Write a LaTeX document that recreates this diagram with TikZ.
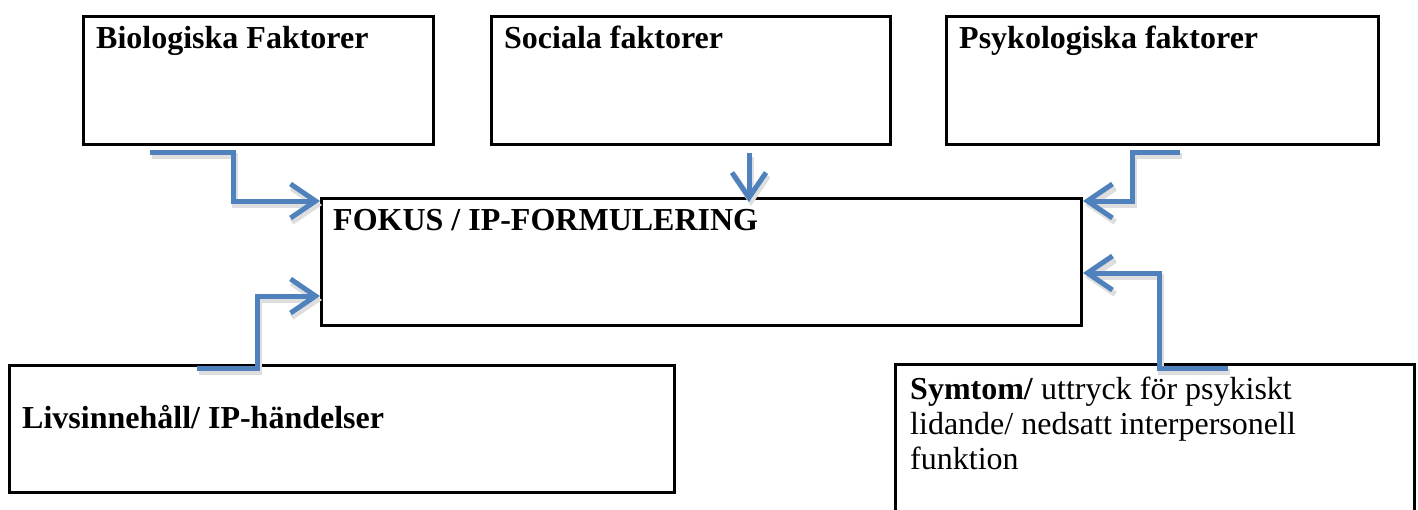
\documentclass[tikz,border=0pt]{standalone}
\usepackage{fontspec}
\setmainfont{Liberation Serif}
\usetikzlibrary{arrows.meta,positioning,calc}
\definecolor{ipblue}{RGB}{79,129,189}

\begin{document}
\begin{tikzpicture}[x=1pt, y=-1pt,
  every node/.style={font=\fontsize{32}{35}\selectfont, inner sep=0pt},
  box/.style={draw, line width=3pt, anchor=north west},
  lbl/.style={anchor=base west, font=\fontsize{32}{35}\selectfont\bfseries},
  pil/.style={line width=5pt, ipblue, -{Straight Barb[length=25pt,width=34pt]},
    preaction={draw=black!13, line width=6pt, transform canvas={shift={(2pt,-4pt)}}}}]
  \useasboundingbox (0,0) rectangle (1418,509);
  \clip (0,0) rectangle (1418,509);
  % top row
  \foreach \name/\xl/\bw/\txt in {bio/82/350/Biologiska Faktorer,
      soc/490/399/Sociala faktorer, psy/945/432/Psykologiska faktorer} {
    \node[box, minimum width=\bw pt, minimum height=128pt] (\name) at (\xl,15) {};
    \node[lbl] (\name txt) at (\xl+14,48) {\txt};
  }
  % centre
  \node[box, minimum width=760pt, minimum height=127pt] (fokus) at (320,197) {};
  \node[lbl] (fokustxt) at (333,230) {FOKUS / IP-FORMULERING};
  % bottom row
  \node[box, minimum width=665pt, minimum height=127pt] (livs) at (8,364) {};
  \node[lbl] (livstxt) at (22,428) {Livsinnehåll/ IP-händelser};
  \node[box, minimum width=519pt, minimum height=170pt] (symtom) at (894,363) {};
  \node[anchor=base west] (symtomtxt1) at (910,399) {\textbf{Symtom/} uttryck för psykiskt};
  \node[anchor=base west] (symtomtxt2) at (910,434) {lidande/ nedsatt interpersonell};
  \node[anchor=base west] (symtomtxt3) at (910,469) {funktion};
  % arrows
  \coordinate (s1) at (150,152);
  \coordinate (s2) at (749,153);
  \coordinate (s3) at (1180,152);
  \coordinate (s4) at (197,368);
  \coordinate (s5) at (1228,368);
  \coordinate (f1) at ($(fokus.north west)+(0,4)$);
  \coordinate (f3) at ($(fokus.north east)+(0,4)$);
  \coordinate (f4) at ($(fokus.north west)+(0,99)$);
  \coordinate (f5) at ($(fokus.north east)+(0,76)$);
  \draw[pil] (s1) -- ++(83,0) |- (f1);
  \draw[pil] (s2) -- ($(s2 |- fokus.north)+(0,5)$);
  \draw[pil] (s3) -- ++(-48,0) |- (f3);
  \draw[pil] (s4) -- ++(60,0) |- (f4);
  \draw[pil] (s5) -- ++(-69,0) |- (f5);
\end{tikzpicture}
\end{document}
